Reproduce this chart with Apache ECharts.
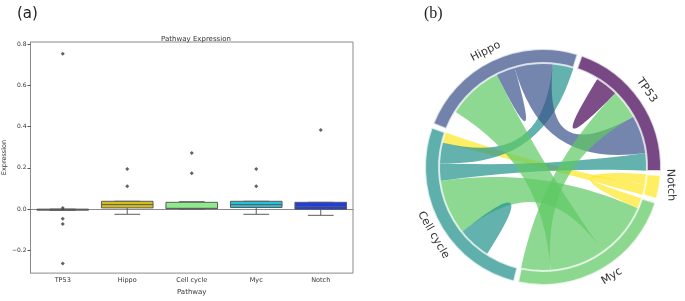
<!DOCTYPE html>
<html>
<head>
<meta charset="utf-8">
<script src="https://cdn.jsdelivr.net/npm/echarts@6/dist/echarts.min.js"></script>
<style>
  html, body { margin: 0; padding: 0; background: #fff; }
  #chart { width: 685px; height: 301px; }
</style>
</head>
<body>
<div id="chart"></div>
<script>
// categories shared by both panels
var categories = ['TP53', 'Hippo', 'Cell cycle', 'Myc', 'Notch'];

// box stats: [min, Q1, median, Q3, max]
var boxTP53 = [-0.006, -0.004, -0.002, 0.0, 0.0];
var boxHippo = [-0.025, 0.006, 0.022, 0.038, 0.038];
var boxCellCycle = [0.0, 0.002, 0.004, 0.033, 0.036];
var boxMyc = [-0.025, 0.008, 0.022, 0.038, 0.038];
var boxNotch = [-0.03, -0.001, 0.012, 0.033, 0.033];

// outliers per pathway
var outTP53 = [0.753, 0.006, -0.046, -0.072, -0.263];
var outHippo = [0.194, 0.111];
var outCellCycle = [0.272, 0.174];
var outMyc = [0.194, 0.111];
var outNotch = [0.383];

var yTicks = [-0.2, 0.0, 0.2, 0.4, 0.6, 0.8];

// chord links: [source, target, value]  (ribbon takes the source colour)
var chordLinks = [
  ['Notch', 'Cell cycle', 6],
  ['Cell cycle', 'Hippo', 12],
  ['Cell cycle', 'TP53', 10],
  ['Hippo', 'TP53', 22],
  ['Myc', 'TP53', 17],
  ['TP53', 'TP53', 13],
  ['Hippo', 'Hippo', 11],
  ['Myc', 'Hippo', 32],
  ['Myc', 'Cell cycle', 32],
  ['Cell cycle', 'Cell cycle', 19],
  ['Notch', 'Myc', 6]
];

// label angle (deg) around the ring and text rotation
var labelAngles = [36.5, 116.4, 211.8, -57.8, -8];
var labelRotations = [-55, 27, -60, 32, -88];

var boxColors = ['#7a7a7a', '#d4be1c', '#8eea8a', '#2bbfd6', '#1e3ee0'];
var nodeColors = {
  'TP53': '#440154', 'Hippo': '#3b528b', 'Cell cycle': '#21918c',
  'Myc': '#5ec962', 'Notch': '#fde725'
};

var boxes = [boxTP53, boxHippo, boxCellCycle, boxMyc, boxNotch];
var outs = [outTP53, outHippo, outCellCycle, outMyc, outNotch];

var boxData = boxes.map(function (b, i) { return [i].concat(b); });
var outData = [];
outs.forEach(function (arr, i) {
  arr.forEach(function (v) { outData.push([i, v]); });
});

var chordCenter = [543, 167];
var labelRadius = 129;

var labelGraphics = categories.map(function (c, i) {
  var a = labelAngles[i] * Math.PI / 180;
  return {
    type: 'text',
    x: chordCenter[0] + labelRadius * Math.cos(a),
    y: chordCenter[1] - labelRadius * Math.sin(a),
    rotation: labelRotations[i] * Math.PI / 180,
    style: {
      text: c, fill: '#333', fontSize: 11, fontFamily: 'DejaVu Sans',
      align: 'center', verticalAlign: 'middle'
    }
  };
});

var chart = echarts.init(document.getElementById('chart'));

chart.setOption({
  animation: false,
  backgroundColor: '#fff',
  title: [{
    text: '(a)', left: 12, top: 2,
    textStyle: { fontSize: 15, fontWeight: 'normal', color: '#222', fontFamily: 'DejaVu Sans' }
  }, {
    text: '(b)', left: 419, top: 1,
    textStyle: { fontSize: 16, fontWeight: 'normal', color: '#222', fontFamily: 'Liberation Serif' }
  }, {
    text: 'Pathway Expression', left: 191, top: 31, textAlign: 'center',
    textStyle: { fontSize: 7, fontWeight: 'normal', color: '#333', fontFamily: 'DejaVu Sans' }
  }],
  graphic: labelGraphics,
  grid: {
    left: 27, right: 332, top: 42, bottom: 23,
    show: true, borderColor: '#8a8a8a', borderWidth: 1
  },
  xAxis: {
    type: 'category',
    data: categories,
    name: 'Pathway',
    nameLocation: 'middle',
    nameGap: 14,
    nameTextStyle: { fontSize: 7, color: '#333', fontFamily: 'DejaVu Sans' },
    axisLine: { lineStyle: { color: '#8a8a8a' } },
    axisTick: { alignWithLabel: true, length: 3, lineStyle: { color: '#555' } },
    axisLabel: { fontSize: 6.5, color: '#333', margin: 4, fontFamily: 'DejaVu Sans' },
    splitLine: { show: false }
  },
  yAxis: {
    type: 'value',
    min: -0.31, max: 0.81,
    name: 'Expression',
    nameLocation: 'middle',
    nameGap: 20,
    nameTextStyle: { fontSize: 6.5, color: '#333', fontFamily: 'DejaVu Sans' },
    axisLine: { show: true, lineStyle: { color: '#8a8a8a' } },
    axisTick: { show: true, length: 3, customValues: yTicks, lineStyle: { color: '#555' } },
    axisLabel: {
      customValues: yTicks, fontSize: 6, color: '#333', margin: 4, fontFamily: 'DejaVu Sans',
      formatter: function (v) { return (v < 0 ? '\u2212' : '') + Math.abs(v).toFixed(1); }
    },
    splitLine: { show: false }
  },
  series: [{
    type: 'custom',
    data: boxData,
    renderItem: function (params, api) {
      var i = api.value(0);
      var bw = api.size([1, 0])[0] * 0.8;
      var capW = bw / 2;
      var pMin = api.coord([i, api.value(1)]);
      var pQ1 = api.coord([i, api.value(2)]);
      var pMed = api.coord([i, api.value(3)]);
      var pQ3 = api.coord([i, api.value(4)]);
      var pMax = api.coord([i, api.value(5)]);
      var x = pMed[0];
      var edge = '#5c5c5c';
      var ls = { stroke: edge, lineWidth: 1 };
      var h = Math.max(pQ1[1] - pQ3[1], 1);
      return {
        type: 'group',
        children: [
          { type: 'line', shape: { x1: x, y1: pQ1[1], x2: x, y2: pMin[1] }, style: ls },
          { type: 'line', shape: { x1: x, y1: pQ3[1], x2: x, y2: pMax[1] }, style: ls },
          { type: 'line', shape: { x1: x - capW / 2, y1: pMin[1], x2: x + capW / 2, y2: pMin[1] }, style: ls },
          { type: 'line', shape: { x1: x - capW / 2, y1: pMax[1], x2: x + capW / 2, y2: pMax[1] }, style: ls },
          { type: 'rect', shape: { x: x - bw / 2, y: pQ3[1], width: bw, height: h },
            style: { fill: boxColors[i], stroke: edge, lineWidth: 1 } },
          { type: 'line', shape: { x1: x - bw / 2, y1: pMed[1], x2: x + bw / 2, y2: pMed[1] }, style: ls }
        ]
      };
    }
  }, {
    type: 'scatter',
    data: outData,
    symbol: 'diamond',
    symbolSize: 4,
    itemStyle: { color: '#3a3a3a' }
  }, {
    type: 'chord',
    center: chordCenter,
    radius: [104, 118],
    startAngle: -2,
    clockwise: false,
    padAngle: 2,
    itemStyle: { borderColor: '#fff', borderWidth: 2, borderRadius: 0, opacity: 0.72 },
    lineStyle: { color: 'source', opacity: 0.7 },
    label: { show: false },
    data: categories.map(function (c) {
      return { name: c, itemStyle: { color: nodeColors[c] } };
    }),
    links: chordLinks.map(function (l) {
      return { source: l[0], target: l[1], value: l[2] };
    })
  }]
});
</script>
</body>
</html>
